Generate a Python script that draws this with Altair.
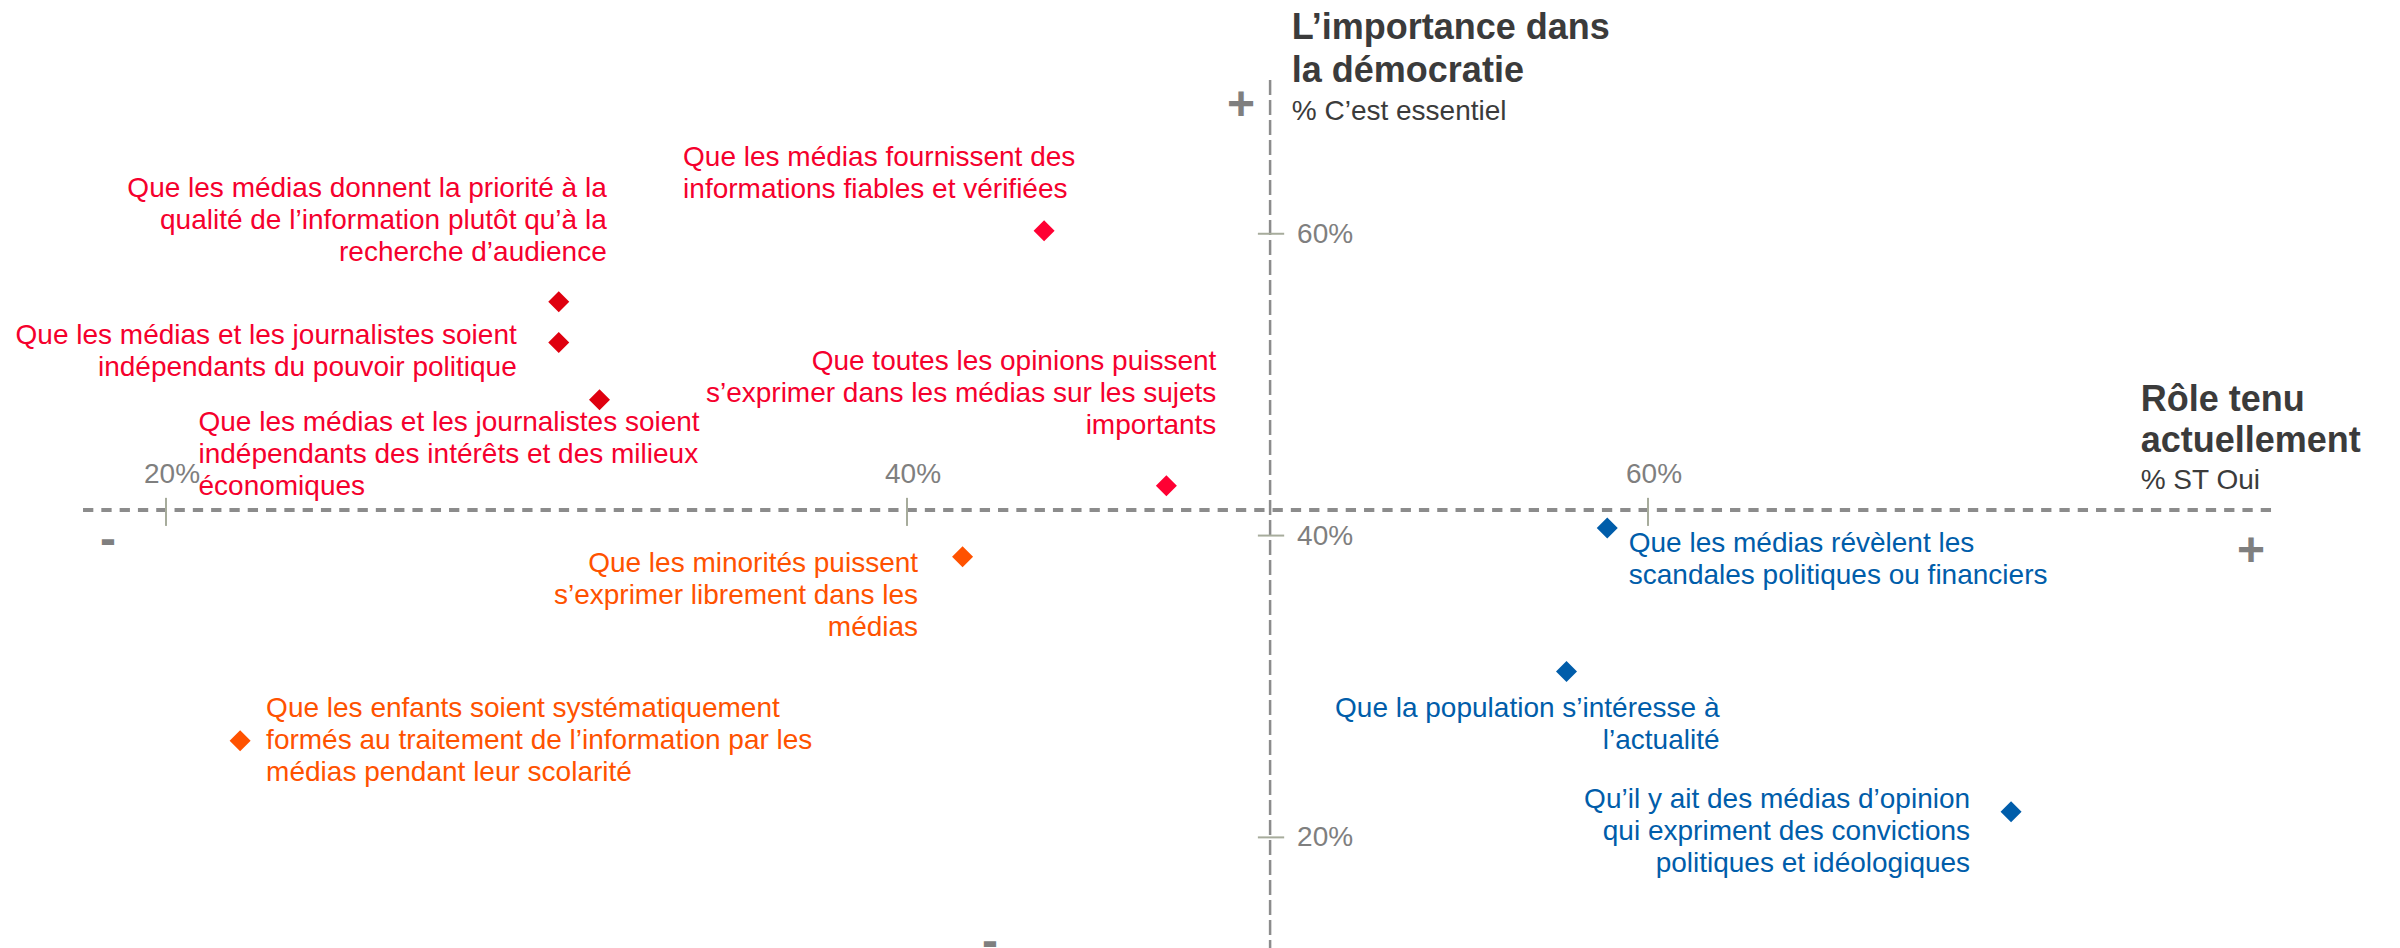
import altair as alt
import pandas as pd

# ---------------- data ----------------
ITEMS = [
    "Que les médias fournissent des\ninformations fiables et vérifiées",
    "Que les médias donnent la priorité à la\nqualité de l’information plutôt qu’à la\nrecherche d’audience",
    "Que les médias et les journalistes soient\nindépendants du pouvoir politique",
    "Que les médias et les journalistes soient\nindépendants des intérêts et des milieux\néconomiques",
    "Que toutes les opinions puissent\ns’exprimer dans les médias sur les sujets\nimportants",
    "Que les minorités puissent\ns’exprimer librement dans les\nmédias",
    "Que les enfants soient systématiquement\nformés au traitement de l’information par les\nmédias pendant leur scolarité",
    "Que les médias révèlent les\nscandales politiques ou financiers",
    "Que la population s’intéresse à\nl’actualité",
    "Qu’il y ait des médias d’opinion\nqui expriment des convictions\npolitiques et idéologiques",
]
ROLE_ST_OUI = [43.7, 30.6, 30.6, 31.7, 47.0, 41.5, 22.0, 58.9, 57.8, 69.8]        # x
ESSENTIEL = [60.2, 55.5, 52.8, 49.0, 43.3, 38.6, 26.4, 40.5, 31.0, 21.7]          # y
GROUP = ["rouge", "rouge", "rouge", "rouge", "rouge",
         "orange", "orange", "bleu", "bleu", "bleu"]

X_TICKS = [20, 40, 60]
Y_TICKS = [20, 40, 60]
X_CROSS = 49.8      # where the vertical axis crosses
Y_CROSS = 41.7      # where the horizontal axis crosses

# ---------------- layout / style ----------------
FONT = "Liberation Sans"
W, H = 2384, 940
X_MIN, X_MAX = 15.735, 80.081
Y_MIN, Y_MAX = 12.67, 74.96
HL_LEFT, HL_RIGHT = 17.76, 77.03
VL_TOP = 70.19

TEXT_COLORS = {"rouge": "#F5002D", "orange": "#FF5200", "bleu": "#005DAA"}
DIAMOND_COLORS = ["#FF0033", "#DF000F", "#DF000F", "#DF000F", "#FF0033",
                  "#FF5200", "#FF5200", "#005DAA", "#005DAA", "#005DAA"]
# (align, dx, dy) of each label relative to its diamond
LABEL_LAYOUT = [
    ("left", -361, -64.5),
    ("right", 48, -105),
    ("right", -42, 2),
    ("left", -401, 31),
    ("right", 50, -116),
    ("right", -44.5, 15.6),
    ("left", 26, -23.7),
    ("left", 21.5, 23.6),
    ("right", 153, 45.4),
    ("right", -41, -4),
]
AXIS_GRAY = "#8C8C8C"
TICK_COL = "#A7AC9C"
LABEL_GRAY = "#7F7F7F"
TITLE_COL = "#3B3B3B"

XS = alt.Scale(domain=[X_MIN, X_MAX], nice=False, zero=False)
YS = alt.Scale(domain=[Y_MIN, Y_MAX], nice=False, zero=False)


def X(f):
    return alt.X(f, type="quantitative", scale=XS, axis=None)


def Y(f):
    return alt.Y(f, type="quantitative", scale=YS, axis=None)


layers = []

# axes (dashed)
hline = alt.Chart(pd.DataFrame({"x": [HL_LEFT], "x2": [HL_RIGHT], "y": [Y_CROSS]})).mark_rule(
    color=AXIS_GRAY, strokeWidth=4, strokeDash=[10.3, 8]
).encode(x=X("x"), x2=alt.X2("x2"), y=Y("y"))
vline = alt.Chart(pd.DataFrame({"x": [X_CROSS], "y": [VL_TOP], "y2": [Y_MIN]})).mark_rule(
    color=AXIS_GRAY, strokeWidth=2.5, strokeDash=[15, 5]
).encode(x=X("x"), y=Y("y"), y2=alt.Y2("y2"))
layers += [hline, vline]

# tick marks
xt = pd.DataFrame({"x": X_TICKS, "y": [Y_CROSS + 0.8] * 3, "y2": [Y_CROSS - 1.06] * 3,
                   "lab": [f"{v}%" for v in X_TICKS]})
layers.append(alt.Chart(xt).mark_rule(color=TICK_COL, strokeWidth=2).encode(
    x=X("x"), y=Y("y"), y2=alt.Y2("y2")))
yt = pd.DataFrame({"y": Y_TICKS, "x": [X_CROSS - 0.33] * 3, "x2": [X_CROSS + 0.38] * 3,
                   "lab": [f"{v}%" for v in Y_TICKS]})
layers.append(alt.Chart(yt).mark_rule(color=TICK_COL, strokeWidth=2).encode(
    y=Y("y"), x=X("x"), x2=alt.X2("x2")))

# tick labels
xl = pd.DataFrame({"x": X_TICKS, "y": [Y_CROSS] * 3, "lab": [f"{v}%" for v in X_TICKS]})
layers.append(alt.Chart(xl).mark_text(
    font=FONT, fontSize=28, color=LABEL_GRAY, align="center", baseline="alphabetic",
    dx=6, dy=-27.3).encode(x=X("x"), y=Y("y"), text="lab:N"))
yl = pd.DataFrame({"y": Y_TICKS, "x": [X_CROSS] * 3, "lab": [f"{v}%" for v in Y_TICKS]})
layers.append(alt.Chart(yl).mark_text(
    font=FONT, fontSize=28, color=LABEL_GRAY, align="left", baseline="alphabetic",
    dx=27, dy=9).encode(x=X("x"), y=Y("y"), text="lab:N"))

# diamonds
pts = pd.DataFrame({"x": ROLE_ST_OUI, "y": ESSENTIEL, "item": ITEMS, "col": DIAMOND_COLORS})
layers.append(alt.Chart(pts).mark_point(
    shape="diamond", filled=True, size=441, opacity=1, strokeWidth=0
).encode(x=X("x"), y=Y("y"), color=alt.Color("col:N", scale=None)))

# labels
for i, (align, dx, dy) in enumerate(LABEL_LAYOUT):
    d = pd.DataFrame({"x": [ROLE_ST_OUI[i]], "y": [ESSENTIEL[i]], "t": [ITEMS[i]]})
    layers.append(alt.Chart(d).mark_text(
        font=FONT, fontSize=28, lineHeight=32, lineBreak="\n", align=align,
        baseline="alphabetic", dx=dx, dy=dy, color=TEXT_COLORS[GROUP[i]]
    ).encode(x=X("x"), y=Y("y"), text="t:N"))


def note(x, y, text, dx, dy, size, bold=False, color=TITLE_COL, align="left", lh=None):
    d = pd.DataFrame({"x": [x], "y": [y], "t": [text]})
    kw = dict(font=FONT, fontSize=size, align=align, baseline="alphabetic", dx=dx, dy=dy,
              color=color, fontWeight="bold" if bold else "normal")
    if lh is not None:
        kw.update(lineHeight=lh, lineBreak="\n")
    return alt.Chart(d).mark_text(**kw).encode(x=X("x"), y=Y("y"), text="t:N")


# axis titles
layers.append(note(X_CROSS, VL_TOP, "L’importance dans\nla démocratie", 21.7, -41, 36, True, lh=42.7))
layers.append(note(X_CROSS, VL_TOP, "% C’est essentiel", 21.7, 40, 28))
layers.append(note(HL_RIGHT, Y_CROSS, "Rôle tenu\nactuellement", -138.3, -99.3, 36, True, lh=41))
layers.append(note(HL_RIGHT, Y_CROSS, "% ST Oui", -138.3, -20.7, 28))

# + / - signs
layers.append(note(X_CROSS, VL_TOP, "+", -29, 39.8, 48, True, LABEL_GRAY, "center"))
layers.append(note(HL_RIGHT, Y_CROSS, "+", -28, 56.3, 48, True, LABEL_GRAY, "center"))
layers.append(note(HL_LEFT, Y_CROSS, "-", 25, 45, 48, True, LABEL_GRAY, "center"))
layers.append(note(X_CROSS, Y_MIN, "-", -280, 8.5, 48, True, LABEL_GRAY, "center"))

chart = alt.layer(*layers).properties(
    width=W, height=H, padding=0,
    autosize=alt.AutoSizeParams(type="none"),
    background="white",
).configure_view(stroke=None)

chart.save("out.html", embed_options={"renderer": "svg", "actions": False})
